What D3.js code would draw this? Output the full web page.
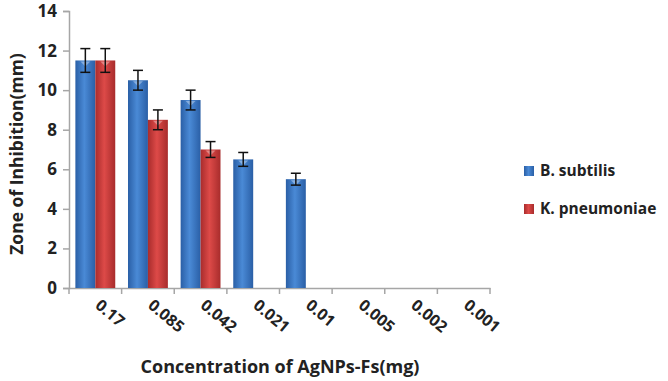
<!DOCTYPE html>
<html>
<head>
<meta charset="utf-8">
<script src="https://cdn.jsdelivr.net/npm/d3@7"></script>
<style>
  body { margin: 0; background: #fff; }
  text { font-family: "Open Sans", "DejaVu Sans", sans-serif; font-weight: bold; fill: #222; }
</style>
</head>
<body>
<div id="container"></div>
<script>
const width = 668,
  height = 381,
  margin = { top: 11, bottom: 93, left: 69, right: 178 };

// chart values
const concentrations = ["0.17", "0.085", "0.042", "0.021", "0.01", "0.005", "0.002", "0.001"]
const seriesNames = ["B. subtilis", "K. pneumoniae"]
const subtilis = [11.5, 10.5, 9.5, 6.5, 5.5, null, null, null]
const subtilisErr = [0.6, 0.5, 0.5, 0.35, 0.3, null, null, null]
const pneumoniae = [11.5, 8.5, 7.0, null, null, null, null, null]
const pneumoniaeErr = [0.6, 0.5, 0.4, null, null, null, null, null]
const yTicks = [0, 2, 4, 6, 8, 10, 12, 14]

const series = [
  { name: seriesNames[0], values: subtilis, errs: subtilisErr, id: "gBlue" },
  { name: seriesNames[1], values: pneumoniae, errs: pneumoniaeErr, id: "gRed" }
]

const svg = d3.select("#container")
  .append("svg")
  .attr("width", width)
  .attr("height", height)

// bar gradients
const defs = svg.append("defs")
const grads = [
  { id: "gBlue", edge: "#2a5fa6", mid: "#4a8ad6" },
  { id: "gRed", edge: "#a82c2c", mid: "#dd4a48" }
]
grads.forEach(g => {
  const lg = defs.append("linearGradient").attr("id", g.id)
    .attr("x1", "0%").attr("x2", "100%").attr("y1", "0%").attr("y2", "0%")
  lg.append("stop").attr("offset", "0%").attr("stop-color", g.edge)
  lg.append("stop").attr("offset", "45%").attr("stop-color", g.mid)
  lg.append("stop").attr("offset", "100%").attr("stop-color", g.edge)
})

const xScale = d3.scaleBand()
  .domain(concentrations)
  .range([margin.left, width - margin.right])

const inner = d3.scaleBand()
  .domain(seriesNames)
  .range([0, xScale.bandwidth()])
  .paddingOuter(0.32)

const yScale = d3.scaleLinear()
  .domain([0, 14])
  .range([height - margin.bottom, margin.top])

// axes
const yAxis = svg.append("g")
  .attr("transform", `translate(${margin.left},0)`)
  .call(d3.axisLeft(yScale).tickValues(yTicks).tickSize(6).tickPadding(6))
yAxis.selectAll("path, line").attr("stroke", "#a6a6a6").attr("stroke-width", 1.5)
yAxis.selectAll("text").style("font-size", "17px").style("font-family", "Open Sans, sans-serif")
  .style("font-weight", "bold").attr("fill", "#222")

const xAxis = svg.append("g")
  .attr("transform", `translate(0,${height - margin.bottom})`)
  .call(d3.axisBottom(xScale).tickSize(0).tickFormat(""))
xAxis.select("path").attr("stroke", "#a6a6a6").attr("stroke-width", 1.5)

// category boundary ticks
const edges = concentrations.map(c => xScale(c)).concat([xScale(concentrations[concentrations.length - 1]) + xScale.bandwidth()])
svg.append("g").selectAll("line")
  .data(edges)
  .join("line")
  .attr("x1", d => d).attr("x2", d => d)
  .attr("y1", height - margin.bottom).attr("y2", height - margin.bottom + 6)
  .attr("stroke", "#a6a6a6").attr("stroke-width", 1.5)

// x labels rotated
svg.append("g").selectAll("text")
  .data(concentrations)
  .join("text")
  .attr("transform", d => `translate(${xScale(d) + xScale.bandwidth() / 2 - 1},${height - margin.bottom + 19}) rotate(40)`)
  .attr("text-anchor", "start")
  .style("font-size", "16px")
  .text(d => d)

// bars
series.forEach(s => {
  const g = svg.append("g")
  const pts = concentrations.map((c, i) => ({ c, v: s.values[i], e: s.errs[i] })).filter(d => d.v != null)
  g.selectAll("rect")
    .data(pts)
    .join("rect")
    .attr("x", d => xScale(d.c) + inner(s.name))
    .attr("y", d => yScale(d.v))
    .attr("width", inner.bandwidth())
    .attr("height", d => yScale(0) - yScale(d.v))
    .attr("fill", `url(#${s.id})`)

  // small highlight at top of bar
  g.selectAll("path.hl")
    .data(pts)
    .join("path")
    .attr("class", "hl")
    .attr("d", d => {
      const x0 = xScale(d.c) + inner(s.name), w = inner.bandwidth(), y0 = yScale(d.v)
      return `M${x0 + w * 0.25},${y0 + 1}L${x0 + w * 0.75},${y0 + 1}L${x0 + w * 0.5},${y0 + 6}Z`
    })
    .attr("fill", "#ffffff").attr("opacity", 0.35)

  // error bars
  const eg = g.selectAll("g.err")
    .data(pts)
    .join("g")
    .attr("class", "err")
  const cx = d => xScale(d.c) + inner(s.name) + inner.bandwidth() / 2
  eg.append("line")
    .attr("x1", cx).attr("x2", cx)
    .attr("y1", d => yScale(d.v + d.e)).attr("y2", d => yScale(d.v - d.e))
    .attr("stroke", "#111").attr("stroke-width", 1.5)
  eg.append("line")
    .attr("x1", d => cx(d) - 5).attr("x2", d => cx(d) + 5)
    .attr("y1", d => yScale(d.v + d.e)).attr("y2", d => yScale(d.v + d.e))
    .attr("stroke", "#111").attr("stroke-width", 1.5)
  eg.append("line")
    .attr("x1", d => cx(d) - 5).attr("x2", d => cx(d) + 5)
    .attr("y1", d => yScale(d.v - d.e)).attr("y2", d => yScale(d.v - d.e))
    .attr("stroke", "#111").attr("stroke-width", 1.5)
})

// legend
const legend = svg.append("g").attr("transform", "translate(524,171)")
series.forEach((s, i) => {
  const row = legend.append("g").attr("transform", `translate(0,${i * 38})`)
  row.append("rect")
    .attr("x", 0).attr("y", -5).attr("width", 10).attr("height", 10)
    .attr("fill", `url(#${s.id})`)
  row.append("text")
    .attr("x", 16).attr("y", 5)
    .style("font-size", "15.5px")
    .text(s.name)
})

// axis titles
svg.append("text")
  .attr("text-anchor", "middle")
  .attr("x", 280)
  .attr("y", 373)
  .style("font-size", "18px")
  .text("Concentration of AgNPs-Fs(mg)")

svg.append("text")
  .attr("text-anchor", "middle")
  .attr("transform", "translate(23,154) rotate(-90)")
  .style("font-size", "17.5px")
  .text("Zone of Inhibition(mm)")
</script>
</body>
</html>
